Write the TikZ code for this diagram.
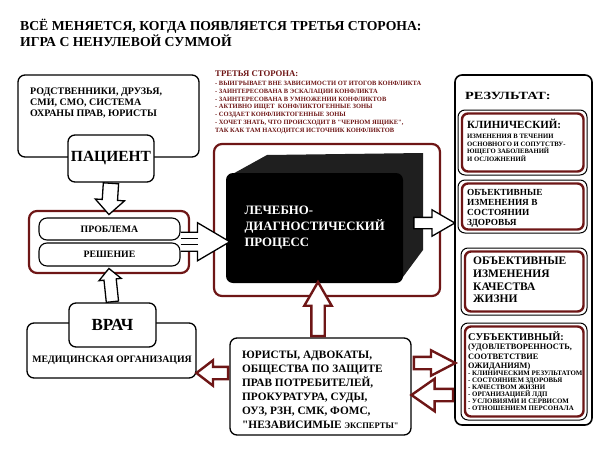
\documentclass[tikz,border=0pt]{standalone}
\usepackage{fontspec}
\setmainfont{Liberation Serif}
\newfontfamily\widefont{Liberation Serif}[FakeStretch=1.3]
\usetikzlibrary{shapes.arrows, positioning, calc}
\definecolor{maroon}{RGB}{110,22,22}
\newcommand{\fz}[2]{\fontsize{#1}{#2}\selectfont}
% fat hollow arrow: [style]{from}{to}{half shaft}{head extend}{tip angle}
\newcommand{\fatarrow}[6][fatblack]{%
  \path let \p1=(#2), \p2=(#3), \n1={veclen(\x2-\x1,\y2-\y1)}, \n2={atan2(\y2-\y1,\x2-\x1)} in
    node[#1, minimum height=\n1, inner ysep=#4, single arrow head extend=#5,
         single arrow tip angle=#6, rotate=\n2, anchor=tail] at (\p1) {};}

\begin{document}
\begin{tikzpicture}[x=1pt, y=-1pt,
    box/.style={draw, line width=1.3pt, rounded corners=7pt, fill=white, inner sep=0pt},
    frame/.style={draw=maroon, line width=2.2pt, rounded corners=8pt, inner sep=0pt},
    cell/.style={draw, line width=1pt, rounded corners=7pt, inner sep=0pt, fill=white},
    cellin/.style={draw=maroon, line width=2.4pt, rounded corners=6pt},
    pill/.style={draw, line width=1.1pt, rounded corners=8pt, inner sep=0pt, fill=white},
    fatblack/.style={single arrow, draw, line width=1.3pt, fill=white, inner xsep=0pt},
    fatred/.style={single arrow, draw=maroon, line width=2.4pt, fill=white, inner xsep=0pt},
    txt/.style={inner sep=0pt, align=left},
  ]
  \useasboundingbox (0,0) rectangle (600,450);

  % title
  \node[txt, anchor=north west, font=\bfseries\fz{13.7}{16}] (title) at (20,19)
    {ВСЁ МЕНЯЕТСЯ, КОГДА ПОЯВЛЯЕТСЯ ТРЕТЬЯ СТОРОНА:\\ИГРА С НЕНУЛЕВОЙ СУММОЙ};

  % patient side
  \node[box, minimum width=181pt, minimum height=82pt] (rel) at (108.5,116) {};
  \node[txt, anchor=north west, font=\bfseries\fz{10}{11}] (reltxt) at (30,88)
    {РОДСТВЕННИКИ, ДРУЗЬЯ,\\СМИ, СМО, СИСТЕМА\\ОХРАНЫ ПРАВ, ЮРИСТЫ};
  \node[box, minimum width=86pt, minimum height=47pt, font=\bfseries\fz{15.5}{16}] (pat) at (111,158.5) {ПАЦИЕНТ};

  % problem / solution
  \node[frame, minimum width=160pt, minimum height=62pt] (pf) at (109,242) {};
  \node[pill, minimum width=141pt, minimum height=22pt, font=\bfseries\fz{9.8}{10}] (prob) at (109.5,229) {ПРОБЛЕМА};
  \node[pill, minimum width=141pt, minimum height=23pt, font=\bfseries\fz{9.8}{10}] (sol) at (109.5,254.5) {РЕШЕНИЕ};

  % doctor side
  \node[box, minimum width=169pt, minimum height=55pt] (org) at (111.5,350.5) {};
  \node[txt, font=\bfseries\fz{9.8}{10}] (orgtxt) at (112,360) {МЕДИЦИНСКАЯ ОРГАНИЗАЦИЯ};
  \node[box, minimum width=87pt, minimum height=44pt, font=\bfseries\fz{17}{17}] (doc) at (112.5,325) {ВРАЧ};

  % third party
  \node[txt, anchor=north west, text=maroon, font=\bfseries\fz{8.7}{9}] (thirdhd) at (215,71) {ТРЕТЬЯ СТОРОНА:};
  \node[txt, anchor=north west, text=maroon, font=\bfseries\fz{6.5}{7.8}] (third) at (215,81)
    {- ВЫИГРЫВАЕТ ВНЕ ЗАВИСИМОСТИ ОТ ИТОГОВ КОНФЛИКТА\\
     - ЗАИНТЕРЕСОВАНА В ЭСКАЛАЦИИ КОНФЛИКТА\\
     - ЗАИНТЕРЕСОВАНА В УМНОЖЕНИИ КОНФЛИКТОВ\\
     - АКТИВНО ИЩЕТ \ КОНФЛИКТОГЕННЫЕ ЗОНЫ\\
     - СОЗДАЕТ КОНФЛИКТОГЕННЫЕ ЗОНЫ\\
     - ХОЧЕТ ЗНАТЬ, ЧТО ПРОИСХОДИТ В \textquotedbl ЧЕРНОМ ЯЩИКЕ\textquotedbl,\\
     ТАК КАК ТАМ НАХОДИТСЯ ИСТОЧНИК КОНФЛИКТОВ};

  % black box
  \node[frame, minimum width=226pt, minimum height=152pt] (ldp) at (327,220) {};
  \fill[black!88] (229,176) -- (267,155) -- (423,153) -- (423,250) -- (400,281) -- cycle;
  \node[fill=black, rounded corners=7pt, minimum width=177pt, minimum height=110pt, text width=140pt,
        align=left, text=white, font=\bfseries\fz{12.8}{16}] (bb) at (314.5,228)
    {ЛЕЧЕБНО-\\ДИАГНОСТИЧЕСКИЙ\\ПРОЦЕСС};

  % results
  \node[box, line width=1.6pt, minimum width=137pt, minimum height=350pt] (res) at (523.5,250) {};
  \node[txt, anchor=north west, font=\widefont\bfseries\fz{11}{13}] (restxt) at (465,92) {РЕЗУЛЬТАТ:};
  \node[cell, minimum width=129pt, minimum height=65pt] (r1) at (522.5,142.5) {};
  \node[cell, minimum width=129pt, minimum height=53pt] (r2) at (522.5,206.5) {};
  \node[cell, minimum width=126pt, minimum height=67pt] (r3) at (524,281.5) {};
  \node[cell, minimum width=126pt, minimum height=97pt] (r4) at (524,371.5) {};
  \foreach \c in {r1,r2,r3,r4}
    \draw[cellin] ([shift={(4.5pt,-4pt)}]\c.north west) rectangle ([shift={(-4pt,4pt)}]\c.south east);

  \node[txt, anchor=north west, font=\bfseries\fz{11}{11}] (r1hd) at (467,119) {КЛИНИЧЕСКИЙ:};
  \node[txt, anchor=north west, font=\bfseries\fz{6.7}{7.5}] (r1txt) at (467,134)
    {ИЗМЕНЕНИЯ В ТЕЧЕНИИ\\ОСНОВНОГО И СОПУТСТВУ-\\ЮЩЕГО ЗАБОЛЕВАНИЙ\\И ОСЛОЖНЕНИЙ};
  \node[txt, anchor=north west, font=\bfseries\fz{9.3}{10}] (r2txt) at (467,189)
    {ОБЪЕКТИВНЫЕ\\ИЗМЕНЕНИЯ В\\СОСТОЯНИИ\\ЗДОРОВЬЯ};
  \node[txt, anchor=north west, font=\bfseries\fz{11.5}{12.7}] (r3txt) at (473,257)
    {ОБЪЕКТИВНЫЕ\\ИЗМЕНЕНИЯ\\КАЧЕСТВА\\ЖИЗНИ};
  \node[txt, anchor=north west, font=\bfseries\fz{10.4}{11}] (r4hd) at (468,331) {СУБЪЕКТИВНЫЙ:};
  \node[txt, anchor=north west, font=\bfseries\fz{8.3}{9.5}] (r4sub) at (468,344)
    {(УДОВЛЕТВОРЕННОСТЬ,\\СООТВЕТСТВИЕ\\ОЖИДАНИЯМ)};
  \node[txt, anchor=north west, font=\bfseries\fz{6.9}{7}] (r4txt) at (468,371)
    {- КЛИНИЧЕСКИМ РЕЗУЛЬТАТОМ\\- СОСТОЯНИЕМ ЗДОРОВЬЯ\\- КАЧЕСТВОМ ЖИЗНИ\\- ОРГАНИЗАЦИЕЙ ЛДП\\- УСЛОВИЯМИ И СЕРВИСОМ\\- ОТНОШЕНИЕМ ПЕРСОНАЛА};

  % controllers
  \node[box, minimum width=181pt, minimum height=97pt] (law) at (320.5,386.5) {};
  \node[txt, anchor=north west, font=\bfseries\fz{11.3}{14}] (lawtxt) at (242,351)
    {ЮРИСТЫ, АДВОКАТЫ,\\ОБЩЕСТВА ПО ЗАЩИТЕ\\ПРАВ ПОТРЕБИТЕЛЕЙ,\\ПРОКУРАТУРА, СУДЫ,\\ОУЗ, РЗН, СМК, ФОМС,\\\textquotedbl НЕЗАВИСИМЫЕ {\fz{8.5}{8}ЭКСПЕРТЫ\textquotedbl}};

  % arrows
  \fatarrow{pat.south}{$(pf.north)+(0,4)$}{7pt}{7pt}{90}
  \fatarrow{doc.north}{$(pf.south)+(0,-5)$}{5.5pt}{5pt}{90}
  \coordinate (ps) at ($(prob.east)!0.5!(sol.east)$);
  \coordinate (pt) at ($(bb.west |- ps)+(4,0)$);
  \draw[line width=1.3pt, fill=white] ($(ps)+(0,-9.5)$) -- ++(17,0) -- ++(0,-9.5) -- (pt)
    -- ($(ps)+(17,19)$) -- ++(0,-9.5) -- ++(-17,0);
  \draw[line width=1.3pt] ($(ps)+(0,-3)$) -- ++(17,0) ($(ps)+(0,3)$) -- ++(17,0);
  \fatarrow{$(bb.east)+(10,-5)$}{$(res.west |- bb.east)+(0,-5)$}{5pt}{7.5pt}{60}
  \fatarrow[fatred]{$(law.north)+(-2.5,0)$}{$(bb.south)+(3.5,0)$}{5.5pt}{7pt}{60}
  \fatarrow[fatred]{$(law.west)+(0,-13.5)$}{$(org.east)+(1,22.5)$}{5pt}{6.5pt}{75}
  \fatarrow[fatred]{$(law.east)+(1,-23.5)$}{$(res.west)+(0,113)$}{5pt}{6.5pt}{55}
  \fatarrow[fatred]{$(res.west)+(0,145)$}{$(law.east)+(1,8.5)$}{5pt}{10pt}{70}
\end{tikzpicture}
\end{document}
